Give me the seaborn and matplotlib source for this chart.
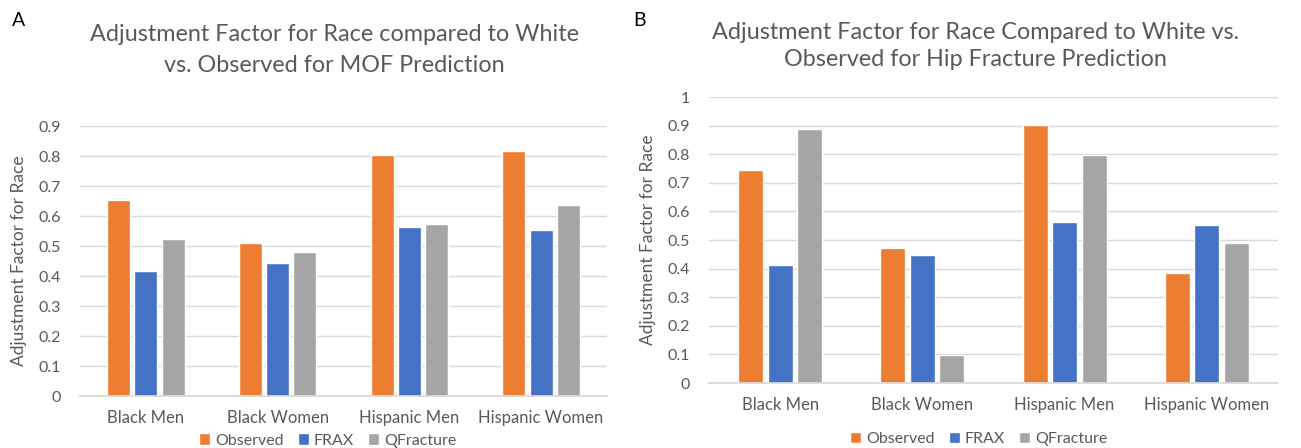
import matplotlib
matplotlib.use("Agg")
import matplotlib.pyplot as plt
import seaborn as sns
import pandas as pd

groups = ["Black Men", "Black Women", "Hispanic Men", "Hispanic Women"]
models = ["Observed", "FRAX", "QFracture"]

mof_observed = [0.653, 0.509, 0.803, 0.817]
mof_frax = [0.416, 0.445, 0.562, 0.553]
mof_qfracture = [0.523, 0.479, 0.573, 0.635]

hip_observed = [0.745, 0.473, 0.902, 0.383]
hip_frax = [0.414, 0.446, 0.563, 0.551]
hip_qfracture = [0.889, 0.099, 0.798, 0.491]

title_a = "Adjustment Factor for Race compared to White\nvs. Observed for MOF Prediction"
title_b = "Adjustment Factor for Race Compared to White vs.\nObserved for Hip Fracture Prediction"
ylabel = "Adjustment Factor for Race"

colors = ["#ED7D31", "#4472C4", "#A5A5A5"]
txt = "#595959"
grid = "#D9D9D9"


def long_df(obs, frax, qf):
    rows = []
    for name, vals in zip(models, [obs, frax, qf]):
        for g, v in zip(groups, vals):
            rows.append({"Group": g, "Model": name, "Value": v})
    return pd.DataFrame(rows)


sns.set_theme(style="white")
plt.rcParams["font.family"] = ["Lato", "DejaVu Sans"]

W, H = 1301, 448
fig = plt.figure(figsize=(13.01, 4.48), dpi=100)
ax1 = fig.add_axes([80 / W, 1 - 396 / H, 527 / W, 270 / H])
ax2 = fig.add_axes([709 / W, 1 - 383 / H, 569 / W, 286 / H])


def style(ax, df, ymax, ticks, legend_x, legend_y):
    sns.barplot(data=df, x="Group", y="Value", hue="Model", palette=colors,
                width=0.62, gap=0.15, ax=ax, saturation=1, errorbar=None)
    ax.set_ylim(0, ymax)
    ax.set_yticks(ticks)
    ax.set_yticklabels([("%g" % t) for t in ticks], color=txt, fontsize=11.5)
    ax.set_xlabel("")
    ax.set_ylabel(ylabel, color=txt, fontsize=12.5, labelpad=8)
    ax.tick_params(axis="x", colors=txt, labelsize=12, length=0, pad=10)
    ax.tick_params(axis="y", length=0, pad=14)
    ax.yaxis.grid(True, color=grid, linewidth=1)
    ax.set_axisbelow(True)
    for s in ["top", "right", "left"]:
        ax.spines[s].set_visible(False)
    ax.spines["bottom"].set_color(grid)
    ax.set_xlim(-0.5, 3.5)
    sns.move_legend(ax, "center", bbox_to_anchor=(legend_x, legend_y), ncol=3,
                    frameon=False, title=None, fontsize=11.5, handlelength=0.7,
                    handleheight=0.7, handletextpad=0.3, columnspacing=0.9)
    for t in ax.get_legend().get_texts():
        t.set_color(txt)


style(ax1, long_df(mof_observed, mof_frax, mof_qfracture), 0.9,
      [0, 0.1, 0.2, 0.3, 0.4, 0.5, 0.6, 0.7, 0.8, 0.9], 0.47, -0.165)
style(ax2, long_df(hip_observed, hip_frax, hip_qfracture), 1.0,
      [0, 0.1, 0.2, 0.3, 0.4, 0.5, 0.6, 0.7, 0.8, 0.9, 1.0], 0.474, -0.195)

fig.text(334 / W, 1 - 50 / H, title_a, fontsize=16.8, color=txt,
         ha="center", va="center", linespacing=1.6)
fig.text(975 / W, 1 - 46 / H, title_b, fontsize=16.8, color=txt,
         ha="center", va="center", linespacing=1.4)

fig.text(12 / W, 1 - 20 / H, "A", fontsize=14, color="black", va="center")
fig.text(633 / W, 1 - 20 / H, "B", fontsize=14, color="black", va="center")

fig.savefig("out.png", dpi=100, facecolor="white")
